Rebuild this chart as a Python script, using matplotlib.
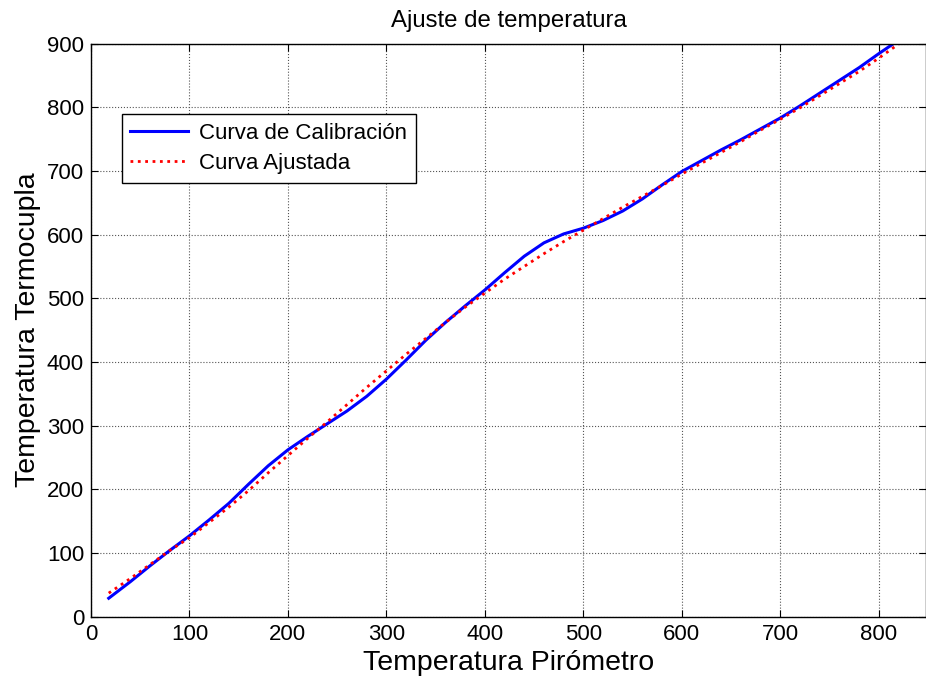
import matplotlib
matplotlib.use("Agg")
import matplotlib.pyplot as plt

plt.rcParams['font.family'] = ['Liberation Sans', 'DejaVu Sans']

# Calibration curve (pyrometer reading vs thermocouple reading)
piro_cal = [18, 40, 60, 80, 100, 120, 140, 160, 180, 200, 220, 240, 260, 280,
            300, 320, 340, 360, 380, 400, 420, 440, 460, 480, 500, 520, 540,
            560, 580, 600, 620, 640, 660, 680, 700, 720, 740, 760, 780, 800,
            820, 840]
termo_cal = [29, 55, 80, 104, 127, 152, 178, 208, 237, 262, 283, 303, 323, 346,
             373, 403, 434, 462, 488, 513, 540, 566, 587, 601, 610, 622, 637,
             656, 678, 699, 716, 733, 749, 766, 783, 802, 822, 842, 862, 884,
             905, 928]

# Fitted curve
piro_fit = piro_cal
termo_fit = [37, 60, 82, 104, 124, 148, 172, 198, 226, 253, 280, 306, 333, 360,
             386, 412, 437, 462, 486, 508, 530, 550, 570, 589, 607, 625, 643,
             660, 677, 695, 712, 729, 746, 764, 781, 799, 818, 837, 856, 877,
             899, 921]

x_ticks = [0, 100, 200, 300, 400, 500, 600, 700, 800]
y_ticks = [0, 100, 200, 300, 400, 500, 600, 700, 800, 900]

fig = plt.figure(figsize=(9.26, 6.79), dpi=100)
ax = fig.add_axes([91 / 926, 1 - 616.7 / 679, 835 / 926, 573.2 / 679])

ax.plot(piro_cal, termo_cal, color='#0000ff', lw=2.2, label='Curva de Calibración')
ax.plot(piro_fit, termo_fit, color='#ff0000', lw=2.0, linestyle=':', label='Curva Ajustada')

ax.set_xlim(0, 848)
ax.set_ylim(0, 900)
ax.set_xticks(x_ticks)
ax.set_yticks(y_ticks)
ax.tick_params(direction='in', top=True, right=True, length=5, width=0.8,
               labelsize=16, pad=5)
ax.grid(True, color='#555555', linestyle=':', linewidth=0.8)
for s in ax.spines.values():
    s.set_linewidth(1.0)

ax.set_title('Ajuste de temperatura', fontsize=17.3, pad=12)
ax.set_xlabel('Temperatura Pirómetro', fontsize=20.5, labelpad=4)
ax.set_ylabel('Temperatura Termocupla', fontsize=20.5, labelpad=4)

leg = ax.legend(loc='upper left', bbox_to_anchor=(30.5 / 835, 1 - 70.5 / 573.2),
                fontsize=16, frameon=True, fancybox=False, edgecolor='black',
                framealpha=1, handlelength=2.6, borderpad=0.4,
                labelspacing=0.4, handletextpad=0.5, borderaxespad=0)
leg.get_frame().set_linewidth(1.0)

fig.savefig('out.png', dpi=100)
